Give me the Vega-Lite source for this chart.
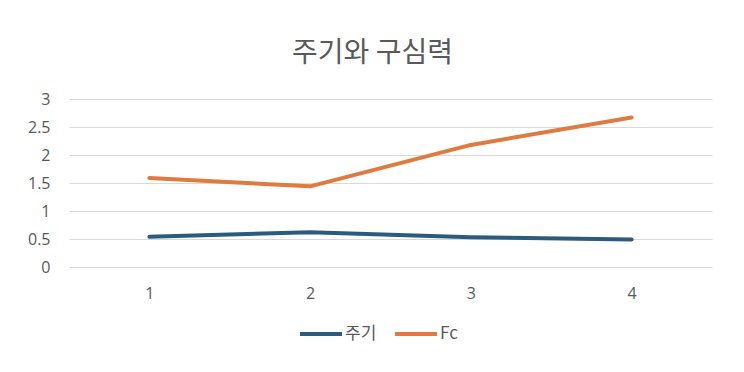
{
  "$schema": "https://vega.github.io/schema/vega-lite/v6.json",
  "width": 643,
  "height": 168,
  "autosize": "none",
  "padding": {"left": 69, "top": 99, "right": 32, "bottom": 105},
  "background": "white",
  "title": {
    "text": "주기와 구심력",
    "fontSize": 28,
    "font": "Noto Sans CJK KR",
    "fontWeight": "normal",
    "color": "#595959",
    "anchor": "middle",
    "dx": -18,
    "offset": 23
  },
  "data": {
    "values": [
      {"x": "1", "series": "주기", "v": 0.54},
      {"x": "2", "series": "주기", "v": 0.62},
      {"x": "3", "series": "주기", "v": 0.53},
      {"x": "4", "series": "주기", "v": 0.49},
      {"x": "1", "series": "Fc", "v": 1.59},
      {"x": "2", "series": "Fc", "v": 1.44},
      {"x": "3", "series": "Fc", "v": 2.18},
      {"x": "4", "series": "Fc", "v": 2.67}
    ]
  },
  "mark": {"type": "line", "strokeWidth": 4, "strokeCap": "round", "strokeJoin": "round"},
  "encoding": {
    "x": {
      "field": "x",
      "type": "ordinal",
      "scale": {"type": "point", "padding": 0.5},
      "axis": {"title": null, "labelAngle": 0, "domain": false, "ticks": false, "grid": false, "labelPadding": 18, "labelFontSize": 16, "labelColor": "#595959", "labelFont": "Open Sans"}
    },
    "y": {
      "field": "v",
      "type": "quantitative",
      "scale": {"domain": [0, 3], "nice": false},
      "axis": {"title": null, "values": [0, 0.5, 1, 1.5, 2, 2.5, 3], "format": "~g", "domain": false, "ticks": false, "grid": true, "gridColor": "#d9d9d9", "gridWidth": 1, "labelPadding": 19, "labelFontSize": 16, "labelColor": "#595959", "labelFont": "Open Sans"}
    },
    "color": {
      "field": "series",
      "type": "nominal",
      "scale": {"domain": ["주기", "Fc"], "range": ["#2B5C7E", "#E07B3F"]},
      "legend": {
        "title": null,
        "orient": "none",
        "direction": "horizontal",
        "legendX": 229,
        "legendY": 212,
        "symbolType": "stroke",
        "symbolSize": 1764,
        "symbolStrokeWidth": 4,
        "labelFontSize": 17,
        "labelFont": "Noto Sans CJK KR",
        "labelColor": "#595959",
        "labelOffset": 1,
        "columnPadding": 10
      }
    }
  },
  "config": {"view": {"stroke": null}}
}
